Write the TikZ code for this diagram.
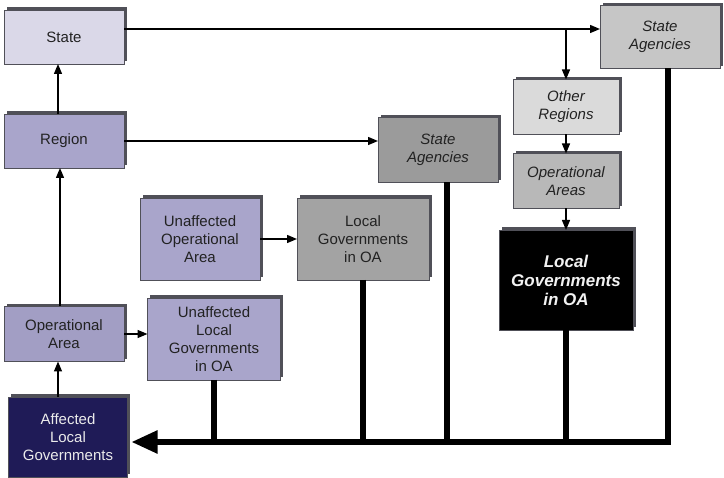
\documentclass[tikz,border=0pt]{standalone}
\usepackage{fontspec}
\setmainfont{Liberation Sans}
\usetikzlibrary{arrows.meta,shadows,calc}

\definecolor{boxedge}{HTML}{505058}
\definecolor{textdark}{HTML}{222222}
\definecolor{statefill}{HTML}{DAD8E8}
\definecolor{purplefill}{HTML}{A9A5CB}
\definecolor{oafill}{HTML}{A29EC4}
\definecolor{navyfill}{HTML}{1F1B57}
\definecolor{agencyfill}{HTML}{C6C6C6}
\definecolor{otherfill}{HTML}{DADADA}
\definecolor{areasfill}{HTML}{B8B8B8}
\definecolor{midfill}{HTML}{9B9B9B}
\definecolor{lgfill}{HTML}{A3A3A3}

\begin{document}
\begin{tikzpicture}[y=1pt, x=1pt, yscale=-1, inner sep=0pt, outer sep=0pt,
  box/.style={draw=boxedge, line width=0.6pt, align=center, text=textdark,
    font=\fontsize{15}{18}\selectfont,
    drop shadow={shadow xshift=2.5pt, shadow yshift=2.5pt, opacity=1, fill=boxedge}},
  link/.style={line width=1.4pt, -{Triangle[length=10pt,width=8pt]}},
  feed/.style={line width=5.5pt, line join=miter}]
\useasboundingbox (0,0) rectangle (724,478);

  % left column
  \path (64,37) node[box, fill=statefill, minimum width=120pt, minimum height=54pt]
    (state) {State};
  \path (64,141) node[box, fill=purplefill, minimum width=120pt, minimum height=54pt]
    (region) {Region};
  \path (64,334) node[box, fill=oafill, minimum width=120pt, minimum height=55pt]
    (opa) {Operational\\Area};
  \path (68,437) node[box, fill=navyfill, text=white!92!black, minimum width=119pt,
    minimum height=80pt] (afflg) {Affected\\Local\\Governments};

  % unaffected parts
  \path (200,239) node[box, fill=purplefill, minimum width=120pt, minimum height=82pt]
    (uoa) {Unaffected\\Operational\\Area};
  \path (363,239) node[box, fill=lgfill, minimum width=132pt, minimum height=82pt]
    (lgoa) {Local\\Governments\\in OA};
  \path (214,339) node[box, fill=purplefill, minimum width=133pt, minimum height=82pt]
    (ulg) {Unaffected\\Local\\Governments\\in OA};

  % agencies and other regions
  \path (438,150) node[box, fill=midfill, minimum width=120pt, minimum height=65pt,
    font=\fontsize{15}{18}\selectfont\itshape] (sam) {State\\Agencies};
  \path (660,37) node[box, fill=agencyfill, minimum width=120pt, minimum height=63pt,
    font=\fontsize{15}{18}\selectfont\itshape] (sat) {State\\Agencies};
  \path (566,107) node[box, fill=otherfill, minimum width=106pt, minimum height=55pt,
    font=\fontsize{15}{18}\selectfont\itshape] (othr) {Other\\Regions};
  \path (566,181) node[box, fill=areasfill, minimum width=106pt, minimum height=55pt,
    font=\fontsize{15}{18}\selectfont\itshape] (opas) {Operational\\Areas};
  \path (566,280) node[box, fill=black, text=white!95!black, minimum width=134pt,
    minimum height=100pt, font=\fontsize{17}{19}\selectfont\bfseries\itshape]
    (lgblk) {Local\\Governments\\in OA};

  \coordinate (toprow) at (0,29);
  \coordinate (bus) at (0,442);

  % reporting chain
  \draw[link] ($(afflg.north)+(-10,0)$) -- ($(opa.south)+(-6,0)$);
  \draw[link] ($(opa.north)+(-4,0)$) -- ($(region.south)+(-4,0)$);
  \draw[link] ($(region.north)+(-6,0)$) -- ($(state.south)+(-6,0)$);
  \draw[link] (opa.east) -- (opa.east -| ulg.west);
  \draw[link] (uoa.east) -- (lgoa.west);
  \draw[link] (region.east) -- (region.east -| sam.west);
  \draw[link] (state.east |- toprow) -- (sat.west |- toprow);
  \draw[link] (othr.north |- toprow) -- (othr.north);
  \draw[link] (othr.south) -- (opas.north);
  \draw[link] (opas.south) -- (lgblk.north);

  % support back to affected
  \draw[feed, -{Triangle[length=26pt,width=22pt]}, shorten >=4pt]
    ($(sat.south)+(8,0)$) -- ($(sat.south |- bus)+(8,0)$) -- (afflg.east |- bus);
  \draw[feed] (ulg.south) -- (ulg.south |- bus);
  \draw[feed] (lgoa.south) -- (lgoa.south |- bus);
  \draw[feed] ($(sam.south)+(9,0)$) -- ($(sam.south |- bus)+(9,0)$);
  \draw[feed] (lgblk.south) -- (lgblk.south |- bus);
\end{tikzpicture}
\end{document}
